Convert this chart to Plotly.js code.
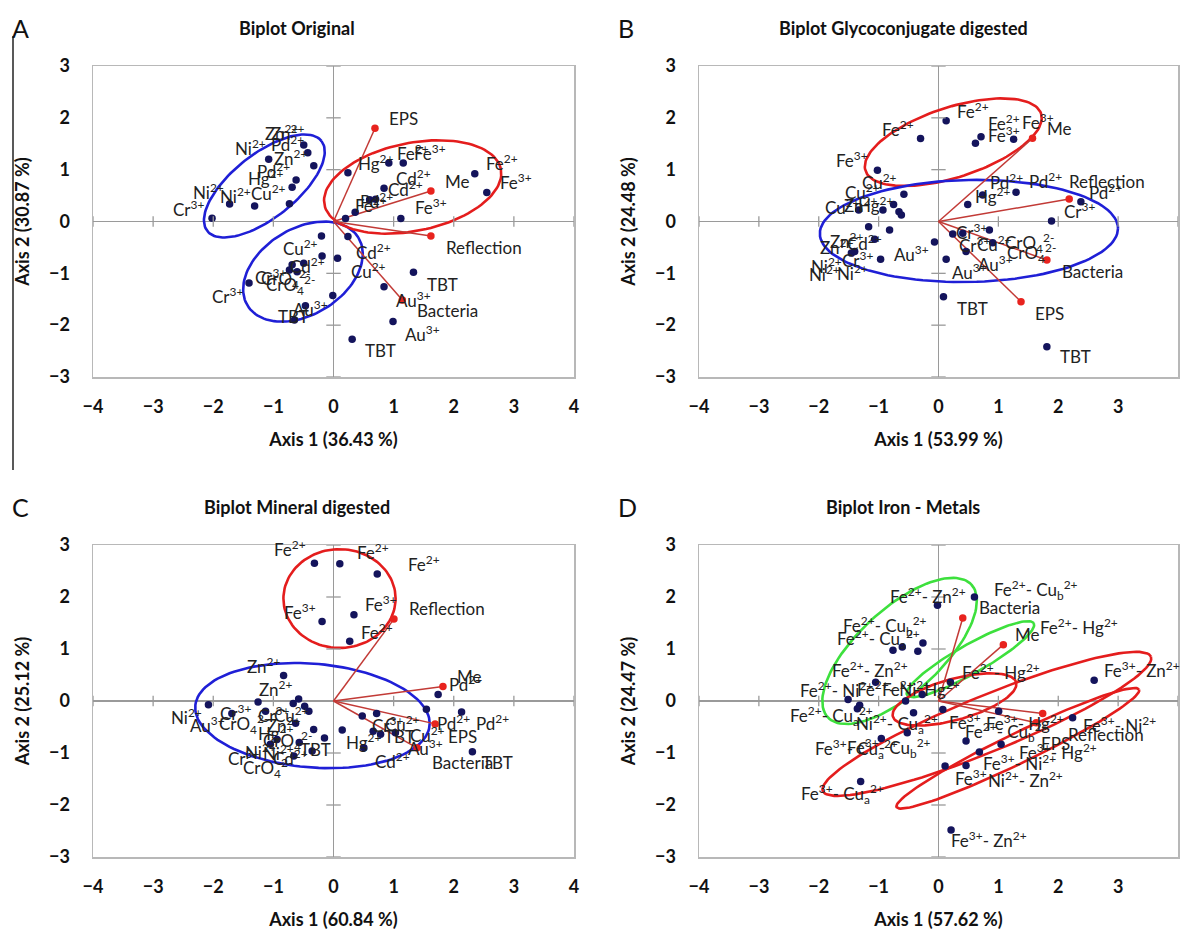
<!DOCTYPE html>
<html><head><meta charset="utf-8">
<script src="https://cdn.plot.ly/plotly-3.0.1.min.js"></script>
<style>body{margin:0;background:#fff}#chart{width:1183px;height:930px}</style>
</head><body><div id="chart"></div>
<script>
// ---------- Panel A : Biplot Original ----------
const A_ptsX = [-0.495,-0.428,-0.328,-1.078,-0.622,-0.688,-1.728,-1.312,-0.733,-2.02,-0.2,-0.19,0.067,-0.688,-0.495,-0.733,-0.605,-1.405,-0.012,-0.467,-0.65,0.31,0.92,1.16,0.24,2.35,2.55,0.84,0.7,0.6,0.36,0.2,1.12,0.24,1.33,0.84,0.99];
const A_ptsY = [1.476,1.327,1.077,1.2,0.80,0.66,0.338,0.30,0.343,0.062,-0.28,-0.666,-0.71,-0.833,-0.806,-0.936,-0.969,-1.187,-1.43,-1.625,-1.9,-2.27,1.13,1.13,0.94,0.92,0.56,0.64,0.43,0.42,0.18,0.06,0.06,-0.29,-0.98,-1.26,-1.93];
const A_vecNames = ['EPS','Me','Reflection','Bacteria'];
const A_vecX = [0.69,1.62,1.62,1.145];
const A_vecY = [1.80,0.59,-0.28,-1.515];
const A_labText = ['EPS','Fe^2+','Fe^3+','Hg^2+','Cd^2+','Cd^2+','Me','Fe^2+','Fe^3+','Fe^3+','Fe^2+','Pd^2+','Reflection','Cd^2+','Cu^2+','TBT','Au^3+','Bacteria','Au^3+','TBT','Zn^2+','Zn^2+','Pd^2+','Ni^2+','Zn^2+','Pd^2+','Hg^2+','Ni^2+','Ni^2+','Cu^2+','Cr^3+','Cu^2+','Cd^2+','Cr^3+','CrO_4^2-','CrO_4^2-','Cr^3+','Au^3+','TBT'];
const A_labX = [1.16,1.33,1.6,0.70,1.33,1.20,2.06,2.81,3.03,1.62,0.62,0.72,2.5,0.67,0.58,1.81,1.33,1.89,1.48,0.78,-0.87,-0.77,-0.77,-1.38,-0.72,-1.0,-1.13,-2.08,-1.63,-1.08,-2.42,-0.55,-0.44,-1.05,-0.8,-0.72,-1.77,-0.38,-0.67];
const A_labY = [1.99,1.34,1.34,1.13,0.84,0.63,0.78,1.13,0.77,0.29,0.32,0.41,-0.51,-0.58,-0.94,-1.21,-1.51,-1.72,-2.16,-2.48,1.71,1.71,1.51,1.42,1.24,0.99,0.84,0.57,0.51,0.55,0.26,-0.51,-0.84,-1.07,-1.1,-1.22,-1.42,-1.67,-1.84];

// ---------- Panel B : Glycoconjugate digested ----------
const B_ptsX = [0.128,-0.3,-1.02,-0.578,-1.333,-0.928,-0.75,-0.66,-0.62,-1.167,-0.817,-1.067,-1.4,-1.455,-0.967,-0.067,0.128,0.238,0.083,0.71,0.617,1.255,1.295,0.738,0.488,2.378,1.888,0.405,0.85,0.46,0.905,1.81];
const B_ptsY = [1.945,1.60,0.99,0.525,0.222,0.222,0.33,0.19,0.125,-0.10,-0.164,-0.344,-0.58,-0.61,-0.73,-0.396,-0.73,-0.24,-1.45,1.636,1.51,1.585,0.563,0.511,0.33,0.382,0.01,-0.228,-0.164,-0.58,-0.41,-2.415];
const B_vecNames = ['Me','Reflection','Bacteria','EPS'];
const B_vecX = [1.57,2.183,1.81,1.378];
const B_vecY = [1.605,0.434,-0.743,-1.547];
const B_labText = ['Fe^2+','Fe^3+','Cu^2+','Cu^2+','Cu^2+','Zn^2+','Hg^2+','Zn^2+','Cd^2+','Zn^2+','Cr^3+','Ni^2+','Ni^2+','Ni^2+','Au^3+','Fe^2+','Fe^2+','Fe^3+','Me','Fe^3+','Pd^2+','Pd^2+','Reflection','Pd^2+','Hg^2+','Cr^3+','Cr^3+','Cr^3+','Cu^2+','CrO_4^2-','CrO_4^2-','Au^3+','Au^3+','Bacteria','TBT','EPS','TBT'];
const B_labX = [-0.68,-1.45,-0.98,-1.27,-1.6,-1.3,-1.05,-1.54,-1.23,-1.7,-1.35,-1.87,-1.9,-1.43,-0.455,0.57,1.1,1.655,2.02,1.1,1.13,1.795,2.82,2.795,0.905,2.35,0.545,0.6,0.93,1.52,1.545,0.517,0.96,2.57,0.57,1.85,2.295];
const B_labY = [1.80,1.19,0.77,0.575,0.28,0.33,0.33,-0.36,-0.41,-0.49,-0.74,-0.84,-1.0,-0.99,-0.614,2.14,1.91,1.93,1.8,1.67,0.77,0.80,0.77,0.575,0.51,0.22,-0.197,-0.45,-0.42,-0.42,-0.614,-0.968,-0.807,-0.968,-1.675,-1.77,-2.61];

// ---------- Panel C : Mineral digested ----------
const C_ptsX = [-0.317,0.105,0.34,-0.19,0.27,-0.83,-2.08,-1.69,-1.255,-1.13,-0.67,-0.58,-0.48,-0.41,-0.63,-0.33,-0.15,0.145,-0.94,-1.05,-0.57,-0.355,-0.66,0.728,1.74,1.545,2.13,0.478,0.717,0.66,0.783,1.03,0.505,2.31];
const C_ptsY = [2.65,2.64,1.66,1.53,1.15,0.49,-0.07,-0.24,-0.02,-0.195,-0.05,0.04,-0.1,-0.195,-0.43,-0.55,-0.71,-0.56,-0.74,-0.83,-0.80,-0.96,-1.06,2.44,0.125,-0.16,-0.21,-0.29,-0.24,-0.58,-0.64,-0.61,-0.90,-0.975];
const C_vecNames = ['Reflection','Me','EPS','Bacteria'];
const C_vecX = [1.005,1.82,1.69,1.39];
const C_vecY = [1.575,0.28,-0.44,-0.90];
const C_labText = ['Fe^2+','Fe^2+','Fe^2+','Fe^3+','Fe^3+','Reflection','Fe^2+','Zn^2+','Zn^2+','Ni^2+','Au^3+','Cr^3+','CrO_4^2-','Cr^3+','Cu^2+','Zn^2+','Hg^2+','CrO_4^2-','TBT','Cr^3+','Ni^2+','Ni^2+','Cd^2+','CrO_4^2-','Me','Pd^2+','Pd^2+','Pd^2+','EPS','Cu^2+','Cr^3+','Cu^2+','TBT','Hg^2+','Au^3+','Cd^2+','Bacteria','TBT'];
const C_labX = [-0.72,0.65,1.5,-0.55,0.783,1.895,0.728,-1.16,-0.97,-2.44,-2.1,-1.63,-1.5,-1.0,-0.7,-0.83,-0.97,-0.77,-0.3,-1.5,-1.22,-0.91,-0.72,-1.1,2.255,2.2,2.0,2.645,2.145,1.145,0.895,1.56,1.09,0.505,1.53,0.978,2.145,2.73];
const C_labY = [2.93,2.87,2.64,1.72,1.88,1.77,1.34,0.68,0.25,-0.29,-0.45,-0.23,-0.45,-0.26,-0.26,-0.45,-0.61,-0.77,-0.93,-1.09,-0.98,-0.99,-1.09,-1.28,0.475,0.335,-0.41,-0.42,-0.675,-0.43,-0.45,-0.64,-0.675,-0.77,-0.90,-1.14,-1.185,-1.185];

// ---------- Panel D : Iron - Metals ----------
const D_ptsX = [-0.017,-0.345,-0.605,-0.76,-0.26,-1.05,-1.51,-1.317,-1.355,-0.55,-0.272,0.2,0.072,-0.417,-0.522,-0.955,-1.3,0.11,0.21,0.6,2.6,1.005,2.24,0.46,1.045,0.683,0.46];
const D_ptsY = [1.84,0.955,1.04,0.975,1.115,0.36,0.03,-0.08,-0.15,0,0.125,0.36,-0.163,-0.226,-0.61,-0.72,-1.55,-1.25,-2.48,2.0,0.4,-0.195,-0.32,-0.77,-0.83,-0.98,-1.24];
const D_vecNames = ['Bacteria','Me','Reflection','EPS'];
const D_vecX = [0.405,1.083,1.74,1.63];
const D_vecY = [1.595,1.083,-0.24,-0.42];
const D_labText = ['Fe^2+- Zn^2+','Fe^2+- Cu_b^2+','Bacteria','Me','Fe^2+- Hg^2+','Fe^2+- Hg^2+','Fe^3+- Zn^2+','Fe^2+- Cu_b^2+','Fe^2+- Cu_a^2+','Fe^2+- Zn^2+','Fe^2+- Ni^2+','Fe^2+- Ni^2+','Fe^2+- Hg^2+','Fe^2+- Cu_a^2+','Ni^2+- Cu_a^2+','Fe^3+- Cu_a^2+','Fe^3+- Cu_b^2+','Fe^3+- Cu_a^2+','Fe^3+','Fe^3+- Hg^2+','Fe^2+- Cu_b^2+','Reflection','Fe^3+- Ni^2+','EPS','Fe^3+- Hg^2+','Fe^3+- Ni^2+','Fe^3+','Ni^2+- Zn^2+','Fe^3+- Zn^2+'];
const D_labX = [-0.18,1.63,1.18,1.49,2.35,1.05,3.4,-0.9,-1.0,-1.15,-1.7,-0.75,-0.3,-1.79,-0.7,-1.37,-0.82,-1.6,0.45,1.45,1.15,2.8,3.02,1.95,2.0,1.35,0.545,1.45,0.85];
const D_labY = [2.03,2.14,1.79,1.27,1.43,0.57,0.6,1.45,1.2,0.6,0.22,0.25,0.25,-0.29,-0.45,-0.93,-0.9,-1.79,-0.40,-0.42,-0.60,-0.64,-0.45,-0.82,-0.98,-1.18,-1.47,-1.5,-2.66];

// ellipse outlines: [centreX, centreY, axis1X, axis1Y, axis2X, axis2Y, colour]
const A_ell = [[-1.15,0.685,0.95,0.868,0.327,-0.486,'#1f1fd6'],[-0.508,-0.967,0.921,0.658,0.376,-0.706,'#1f1fd6'],[1.317,0.666,1.467,0.347,0.147,-0.832,'#e41d1d']];
const B_ell = [[0.247,1.53,1.467,0.55,0.18,-0.642,'#e41d1d'],[0.508,-0.183,2.49,0.05,0,-0.984,'#1f1fd6']];
const C_ell = [[0.1,1.97,0.933,0,0,0.95,'#e41d1d'],[-0.35,-0.28,1.95,-0.15,0,1.0,'#1f1fd6']];
const D_ell = [[-0.65,0.963,1.2,1.275,0.475,-0.592,'#3de03d'],[0.533,0.805,1.058,0.69,0.119,-0.242,'#3de03d'],[0.267,0.03,1.03,0.326,0.083,-0.383,'#e41d1d'],[0.808,-0.44,2.74,1.294,0.177,-0.496,'#e41d1d'],[1.325,-0.91,2.025,1.131,0.109,-0.259,'#e41d1d']];

const ticksX = [-4,-3,-2,-1,0,1,2,3,4];
const ticksY = [-3,-2,-1,0,1,2,3];

const W = 1183, H = 930;
const panels = [
  {letter:'A', title:'Biplot Original', xt:'Axis 1 (36.43 %)', yt:'Axis 2 (30.87 %)', px:[93,574], py:[66,377], ptsX:A_ptsX, ptsY:A_ptsY, vx:A_vecX, vy:A_vecY, lt:A_labText, lx:A_labX, ly:A_labY, ell:A_ell},
  {letter:'B', title:'Biplot Glycoconjugate digested', xt:'Axis 1 (53.99 %)', yt:'Axis 2 (24.48 %)', px:[699,1178], py:[66,377], ptsX:B_ptsX, ptsY:B_ptsY, vx:B_vecX, vy:B_vecY, lt:B_labText, lx:B_labX, ly:B_labY, ell:B_ell},
  {letter:'C', title:'Biplot Mineral digested', xt:'Axis 1 (60.84 %)', yt:'Axis 2 (25.12 %)', px:[93,574], py:[545,857], ptsX:C_ptsX, ptsY:C_ptsY, vx:C_vecX, vy:C_vecY, lt:C_labText, lx:C_labX, ly:C_labY, ell:C_ell},
  {letter:'D', title:'Biplot Iron - Metals', xt:'Axis 1 (57.62 %)', yt:'Axis 2 (24.47 %)', px:[699,1178], py:[545,857], ptsX:D_ptsX, ptsY:D_ptsY, vx:D_vecX, vy:D_vecY, lt:D_labText, lx:D_labX, ly:D_labY, ell:D_ell}
];

const fmt = s => s.replace(/_(\w)/g,'<sub>$1</sub>').replace(/\^(\d*[+-])/g,'<sup>$1</sup>');
const FONT = 'Lato, "Open Sans", sans-serif';
const traces = [], annotations = [], shapes = [];
const layout = {width:W, height:H, margin:{l:0,r:0,t:0,b:0}, paper_bgcolor:'#fff', plot_bgcolor:'#fff', showlegend:false, font:{family:FONT, color:'#1a1a1a'}};

panels.forEach((p,i)=>{
  const n = i===0 ? '' : String(i+1);
  const xa = 'x'+n, ya = 'y'+n;
  const xk = 'xaxis'+n, yk = 'yaxis'+n;
  layout[xk] = {domain:[p.px[0]/W, p.px[1]/W], anchor:ya, range:[-4,4], tickvals:ticksX, showgrid:false,
    zeroline:true, zerolinecolor:'#9a9a9a', zerolinewidth:1.3, showline:true, mirror:true, linecolor:'#b8b8b8', linewidth:1.5,
    ticks:'outside', ticklen:13, tickcolor:'rgba(0,0,0,0)', tickfont:{size:18, weight:'bold', family:FONT, color:'#111'},
    title:{text:p.xt, font:{size:18, weight:'bold', family:FONT, color:'#111'}, standoff:17}, fixedrange:true};
  layout[yk] = {domain:[1-p.py[1]/H, 1-p.py[0]/H], anchor:xa, range:[-3,3], tickvals:ticksY, showgrid:false,
    zeroline:true, zerolinecolor:'#9a9a9a', zerolinewidth:1.3, showline:true, mirror:true, linecolor:'#b8b8b8', linewidth:1.5,
    ticks:'outside', ticklen:18, tickcolor:'rgba(0,0,0,0)', tickfont:{size:18, weight:'bold', family:FONT, color:'#111'},
    title:{text:p.yt, font:{size:18, weight:'bold', family:FONT, color:'#111'}, standoff:14}, fixedrange:true};

  // small tick crosses on the zero lines
  ticksX.filter(v=>v!==0).forEach(v=>shapes.push({type:'line', xref:xa, yref:ya, x0:v, x1:v, y0:-0.1, y1:0.1, line:{color:'#9a9a9a', width:1.3}}));
  ticksY.filter(v=>v!==0).forEach(v=>shapes.push({type:'line', xref:xa, yref:ya, x0:-0.12, x1:0.12, y0:v, y1:v, line:{color:'#9a9a9a', width:1.3}}));

  // ellipses
  p.ell.forEach(e=>{
    const ex=[], ey=[];
    for(let k=0;k<=120;k++){const t=2*Math.PI*k/120; ex.push(e[0]+e[2]*Math.cos(t)+e[4]*Math.sin(t)); ey.push(e[1]+e[3]*Math.cos(t)+e[5]*Math.sin(t));}
    traces.push({type:'scatter', mode:'lines', x:ex, y:ey, xaxis:xa, yaxis:ya, line:{color:e[6], width:2.6}, hoverinfo:'skip'});
  });

  // vector lines from origin
  const lx=[], ly=[];
  p.vx.forEach((v,k)=>{lx.push(0,v,null); ly.push(0,p.vy[k],null);});
  traces.push({type:'scatter', mode:'lines', x:lx, y:ly, xaxis:xa, yaxis:ya, line:{color:'#c23a36', width:1.5}, hoverinfo:'skip'});

  // observation points
  traces.push({type:'scatter', mode:'markers', x:p.ptsX, y:p.ptsY, xaxis:xa, yaxis:ya, marker:{color:'#14145c', size:7.5}, hoverinfo:'x+y'});
  // vector end points
  traces.push({type:'scatter', mode:'markers', x:p.vx, y:p.vy, xaxis:xa, yaxis:ya, marker:{color:'#e8231e', size:7.5}, hoverinfo:'x+y'});

  // labels
  p.lt.forEach((t,k)=>annotations.push({xref:xa, yref:ya, x:p.lx[k], y:p.ly[k], text:fmt(t), showarrow:false, xanchor:'center', yanchor:'middle', font:{size:17, family:FONT, color:'#222'}}));

  // panel title and letter
  annotations.push({xref:'paper', yref:'paper', x:(p.px[0]+204)/W, y:1-(p.py[0]-38)/H, text:p.title, showarrow:false, xanchor:'center', yanchor:'middle', font:{size:18, weight:'bold', family:FONT, color:'#111'}});
  annotations.push({xref:'paper', yref:'paper', x:(p.px[0]-83)/W, y:1-(p.py[0]-38)/H, text:p.letter, showarrow:false, xanchor:'left', yanchor:'middle', font:{size:25, family:FONT, color:'#111'}});
});

// vertical rule at the left edge of panel A
shapes.push({type:'line', xref:'paper', yref:'paper', x0:13/W, x1:13/W, y0:1-36/H, y1:1-470/H, line:{color:'#222', width:1.5}});

layout.annotations = annotations;
layout.shapes = shapes;
Plotly.newPlot('chart', traces, layout, {displayModeBar:false, staticPlot:true});
</script></body></html>
